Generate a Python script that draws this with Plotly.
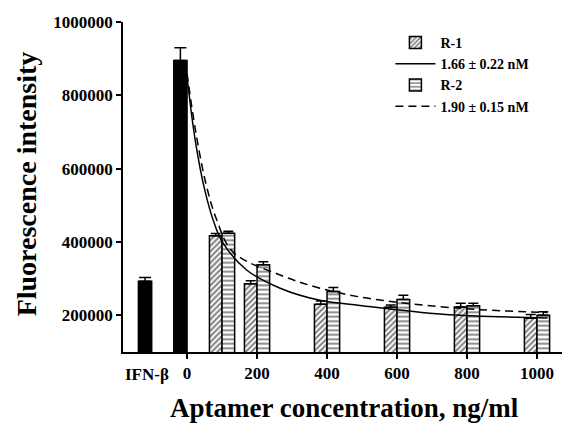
import plotly.graph_objects as go

# ---- data ----
conc = [100, 200, 400, 600, 800, 1000]
r1_vals = [417000, 286000, 230000, 222000, 223000, 192000]
r1_err = [6000, 8000, 9000, 6000, 10000, 10000]
r2_vals = [424000, 338000, 265000, 243000, 226000, 200000]
r2_err = [5000, 8000, 11000, 12000, 7000, 10000]

ctrl_x = [-120, 0]
ctrl_vals = [293000, 895000]
ctrl_err = [10000, 35000]

fit1_x = [0, 23, 51, 80, 103, 171, 266, 380, 494, 731, 1030]
fit1_y = [850000, 680000, 540000, 445000, 397000, 323000, 274000, 241000, 227000, 203000, 193000]
fit2_x = [0, 25, 55, 85, 131, 266, 380, 514, 780, 1030]
fit2_y = [860000, 700000, 555000, 460000, 373000, 310000, 274000, 247000, 219000, 208000]

xticks = [0, 200, 400, 600, 800, 1000]
yticks = [200000, 400000, 600000, 800000, 1000000]

FONT = "Liberation Serif"

fig = go.Figure()

fig.add_trace(go.Bar(
    x=ctrl_x, y=ctrl_vals, width=38, offset=[-19, -38],
    marker=dict(color="black", line=dict(color="black", width=1.5)),
    error_y=dict(type="data", symmetric=False, array=ctrl_err, arrayminus=[0, 0],
                 color="black", thickness=1.5, width=6),
    showlegend=False,
))

fig.add_trace(go.Bar(
    x=conc, y=r1_vals, width=36, offset=-36, name="R-1",
    marker=dict(color="white", line=dict(color="black", width=1.5),
                pattern=dict(shape="/", fgcolor="black", bgcolor="white", size=4, solidity=0.5)),
    error_y=dict(type="data", symmetric=False, array=r1_err, arrayminus=[0] * len(r1_err),
                 color="black", thickness=1.5, width=5),
))

fig.add_trace(go.Scatter(
    x=fit1_x, y=fit1_y, mode="lines", name="1.66 ± 0.22 nM",
    line=dict(color="black", width=1.5, shape="spline", smoothing=1.0),
))

fig.add_trace(go.Bar(
    x=conc, y=r2_vals, width=36, offset=0, name="R-2",
    marker=dict(color="white", line=dict(color="black", width=1.5),
                pattern=dict(shape="-", fgcolor="black", bgcolor="white", size=4.5, solidity=0.4)),
    error_y=dict(type="data", symmetric=False, array=r2_err, arrayminus=[0] * len(r2_err),
                 color="black", thickness=1.5, width=5),
))

fig.add_trace(go.Scatter(
    x=fit2_x, y=fit2_y, mode="lines", name="1.90 ± 0.15 nM",
    line=dict(color="black", width=1.5, dash="8px,5px", shape="spline", smoothing=1.0),
))

fig.update_layout(
    width=562, height=419,
    margin=dict(l=115, r=5, t=12, b=75),
    paper_bgcolor="white", plot_bgcolor="white",
    barmode="overlay",
    font=dict(family=FONT, color="black"),
    showlegend=True,
    legend=dict(x=0.605, y=0.985, xanchor="left", yanchor="top",
                bgcolor="rgba(0,0,0,0)", font=dict(family=FONT, size=14, color="black",
                                                  weight="bold"),
                traceorder="normal", itemwidth=40),
    xaxis=dict(range=[-183, 1080], showgrid=False, zeroline=False,
               showline=True, linecolor="black", linewidth=1.5,
               ticks="outside", ticklen=5, tickcolor="black", tickwidth=1.5,
               tickvals=xticks, ticktext=[str(v) for v in xticks],
               tickfont=dict(family=FONT, size=17, color="black", weight="bold")),
    yaxis=dict(range=[100000, 1000000], showgrid=False, zeroline=False,
               showline=True, linecolor="black", linewidth=1.5,
               ticks="outside", ticklen=5, tickcolor="black", tickwidth=1.5,
               tickvals=yticks, tickformat="d",
               tickfont=dict(family=FONT, size=17, color="black", weight="bold")),
    annotations=[
        dict(x=-115, xref="x", y=-0.068, yref="paper", text="IFN-β", showarrow=False,
             xanchor="center", yanchor="middle",
             font=dict(family=FONT, size=17, color="black", weight="bold")),
        dict(x=0.5, xref="paper", y=-0.17, yref="paper",
             text="Aptamer concentration, ng/ml", showarrow=False,
             xanchor="center", yanchor="middle",
             font=dict(family=FONT, size=27, color="black", weight="bold")),
        dict(x=-0.218, xref="paper", y=0.51, yref="paper",
             text="Fluorescence intensity", showarrow=False, textangle=-90,
             xanchor="center", yanchor="middle",
             font=dict(family=FONT, size=28, color="black", weight="bold")),
    ],
)

fig.write_html("out.html")
